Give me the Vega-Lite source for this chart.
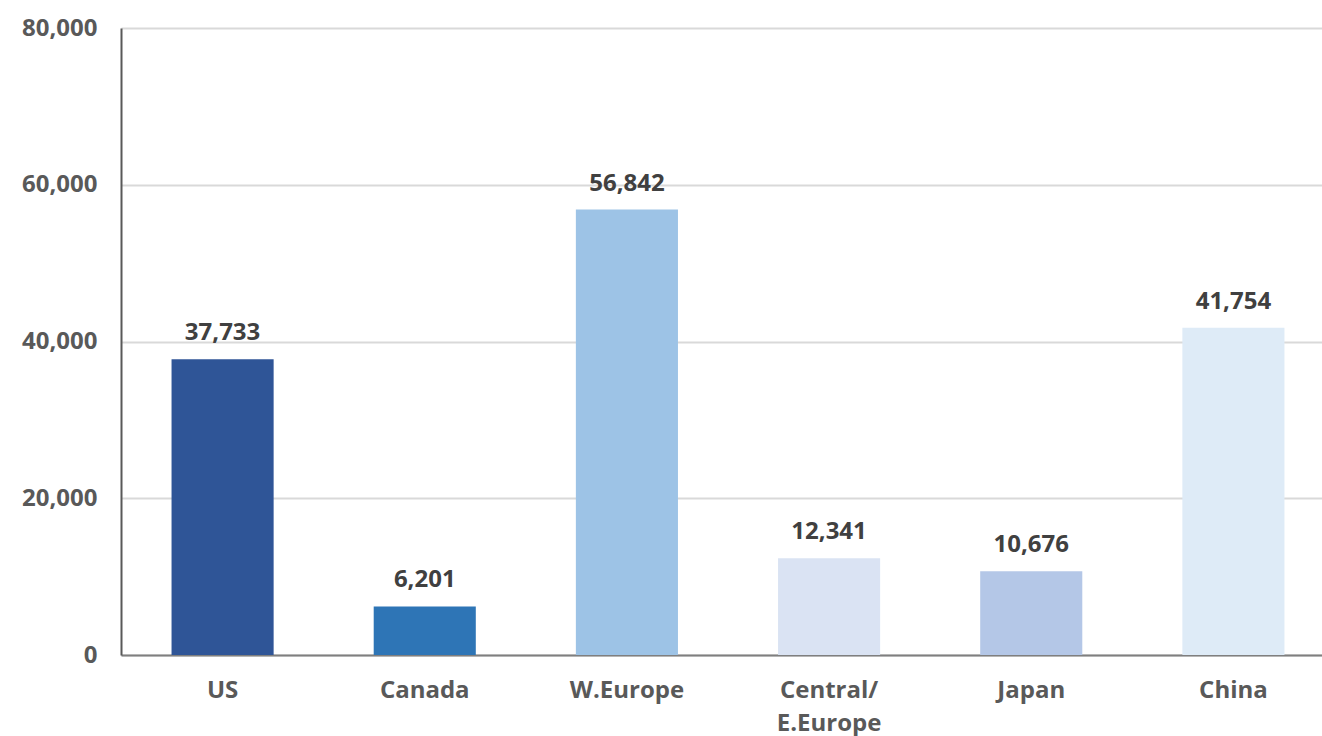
{
  "$schema": "https://vega.github.io/schema/vega-lite/v6.json",
  "autosize": {"type": "none"},
  "padding": {"left": 121, "top": 28, "right": 0, "bottom": 81},
  "width": 1214,
  "height": 627,
  "background": "white",
  "config": {
    "view": {"stroke": null},
    "font": "Open Sans"
  },
  "data": {
    "values": [
      {"region": "US", "value": 37733, "color": "#2F5597"},
      {"region": "Canada", "value": 6201, "color": "#2E75B6"},
      {"region": "W.Europe", "value": 56842, "color": "#9DC3E6"},
      {"region": "Central/E.Europe", "value": 12341, "color": "#DAE3F3"},
      {"region": "Japan", "value": 10676, "color": "#B4C7E7"},
      {"region": "China", "value": 41754, "color": "#DEEBF7"}
    ]
  },
  "encoding": {
    "x": {
      "field": "region", "type": "nominal", "sort": null,
      "scale": {"paddingInner": 0.495, "paddingOuter": 0.25},
      "axis": {
        "title": null, "labelAngle": 0, "ticks": false,
        "domainColor": "#7f7f7f", "domainWidth": 2,
        "labelFont": "Open Sans", "labelFontSize": 24, "labelFontWeight": "bold",
        "labelColor": "#595959", "labelPadding": 23, "labelLineHeight": 33,
        "labelExpr": "datum.label == 'Central/E.Europe' ? ['Central/', 'E.Europe'] : datum.label"
      }
    },
    "y": {
      "field": "value", "type": "quantitative",
      "scale": {"domain": [0, 80000]},
      "axis": {
        "title": null, "values": [0, 20000, 40000, 60000, 80000],
        "labelExpr": "format(datum.value, ',')",
        "ticks": false, "domain": true, "domainColor": "#595959", "domainWidth": 2,
        "grid": true, "gridColor": "#D9D9D9", "gridWidth": 2,
        "labelFont": "Open Sans", "labelFontSize": 24, "labelFontWeight": "bold",
        "labelColor": "#595959", "labelPadding": 24
      }
    }
  },
  "layer": [
    {
      "mark": {"type": "bar"},
      "encoding": {
        "color": {"field": "color", "type": "nominal", "scale": null}
      }
    },
    {
      "mark": {"type": "text", "dy": -26, "font": "Open Sans", "fontSize": 24, "fontWeight": "bold", "color": "#404040", "baseline": "middle"},
      "encoding": {
        "text": {"field": "value", "type": "quantitative", "format": ","}
      }
    }
  ]
}
